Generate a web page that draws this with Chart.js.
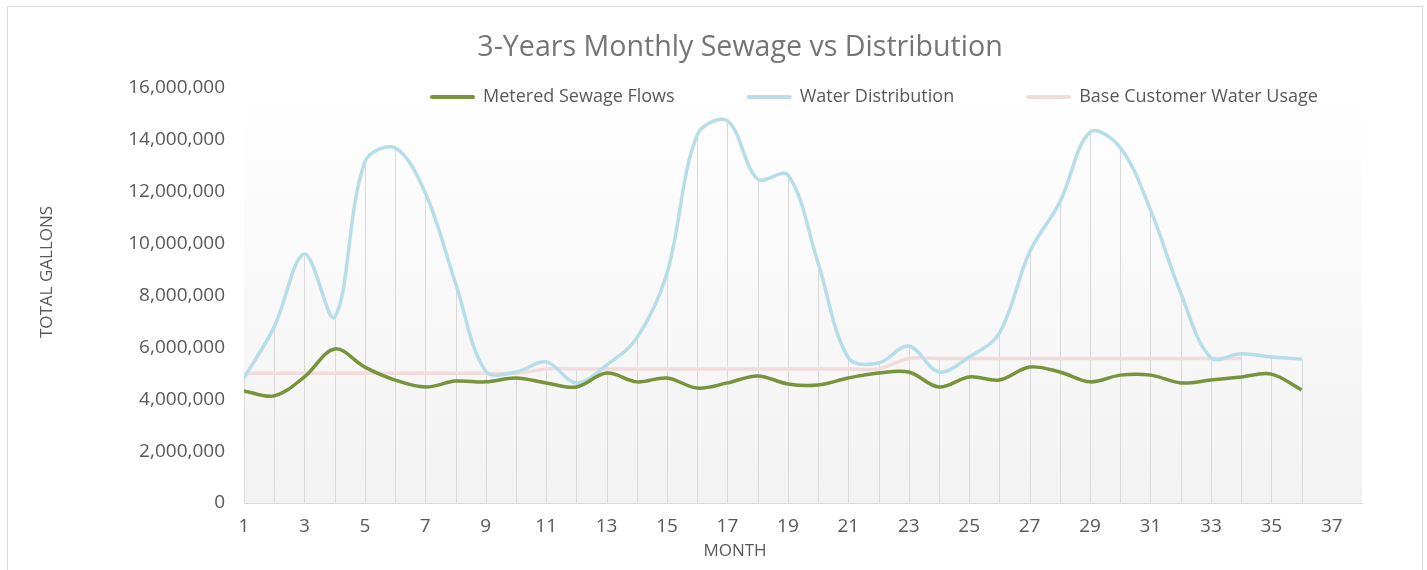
<!DOCTYPE html>
<html>
<head>
<meta charset="utf-8">
<title>3-Years Monthly Sewage vs Distribution</title>
<script src="https://cdn.jsdelivr.net/npm/chart.js@4.4.1/dist/chart.umd.min.js"></script>
<style>
    html, body { margin: 0; padding: 0; background: #ffffff; }
    #wrap { position: relative; width: 1427px; height: 570px; }
</style>
</head>
<body>
<div id="wrap"><canvas id="sewageChart"></canvas></div>
<script>
// Chart data (gallons per month)
const months = [1, 2, 3, 4, 5, 6, 7, 8, 9, 10, 11, 12, 13, 14, 15, 16, 17, 18,
    19, 20, 21, 22, 23, 24, 25, 26, 27, 28, 29, 30, 31, 32, 33, 34, 35, 36];

const meteredSewage = [4320000, 4130000, 4860000, 5940000, 5240000, 4740000, 4470000, 4700000, 4670000,
    4820000, 4630000, 4470000, 5010000, 4670000, 4820000, 4430000, 4630000, 4900000,
    4590000, 4550000, 4820000, 5010000, 5050000, 4470000, 4860000, 4740000, 5240000,
    5050000, 4670000, 4930000, 4930000, 4630000, 4740000, 4860000, 4970000, 4360000];

const waterDistribution = [4820000, 6790000, 9600000, 7170000, 13150000, 13690000, 11950000, 8480000, 5080000,
    5050000, 5440000, 4630000, 5320000, 6360000, 8870000, 14190000, 14730000, 12490000,
    12650000, 9250000, 5600000, 5400000, 6050000, 5050000, 5630000, 6550000, 9680000,
    11600000, 14300000, 13700000, 11300000, 8100000, 5600000, 5750000, 5630000, 5550000];

const baseCustomerUsage = [5000000, 5000000, 5000000, 5000000, 5000000, 5000000, 5000000, 5000000, 5000000,
    5000000, 5170000, 5170000, 5170000, 5170000, 5170000, 5170000, 5170000, 5170000,
    5170000, 5170000, 5170000, 5170000, 5570000, 5570000, 5570000, 5570000, 5570000,
    5570000, 5570000, 5570000, 5570000, 5570000, 5570000, 5570000];

const xTickLabels = [1, 3, 5, 7, 9, 11, 13, 15, 17, 19, 21, 23, 25, 27, 29, 31, 33, 35, 37];
const yTickLabels = [0, 2000000, 4000000, 6000000, 8000000, 10000000, 12000000, 14000000, 16000000];

const TEXT_GREY = '#595959';
const FONT = "'Open Sans', sans-serif";

function toPoints(values) {
    return values.map((v, i) => ({ x: months[i], y: v }));
}

// Plot area background, outer frame
const backgroundPlugin = {
    id: 'background',
    beforeDraw(chart) {
        const { ctx, chartArea: a } = chart;
        ctx.save();
        ctx.fillStyle = '#ffffff';
        ctx.fillRect(0, 0, chart.width, chart.height);
        const grad = ctx.createLinearGradient(0, a.top, 0, a.bottom);
        grad.addColorStop(0, '#ffffff');
        grad.addColorStop(1, '#f2f2f2');
        ctx.fillStyle = grad;
        ctx.fillRect(a.left, a.top, a.right - a.left, a.bottom - a.top);
        ctx.strokeStyle = '#d9d9d9';
        ctx.lineWidth = 1;
        ctx.strokeRect(7.5, 6.5, chart.width - 12, chart.height + 20);
        ctx.restore();
    }
};

// Drop lines from the axis up to the highest series at each month
const dropLinesPlugin = {
    id: 'dropLines',
    beforeDatasetsDraw(chart) {
        const { ctx, scales } = chart;
        ctx.save();
        ctx.strokeStyle = '#d9d9d9';
        ctx.lineWidth = 1;
        months.forEach((m, i) => {
            let top = -Infinity;
            chart.data.datasets.forEach(ds => {
                if (ds.data[i]) top = Math.max(top, ds.data[i].y);
            });
            const x = Math.round(scales.x.getPixelForValue(m)) + 0.5;
            ctx.beginPath();
            ctx.moveTo(x, scales.y.getPixelForValue(0));
            ctx.lineTo(x, scales.y.getPixelForValue(top));
            ctx.stroke();
        });
        ctx.restore();
    }
};

// Title, legend and axis titles placed like the original sheet
const labelsPlugin = {
    id: 'labels',
    afterDraw(chart) {
        const { ctx, chartArea: a } = chart;
        ctx.save();
        ctx.textBaseline = 'middle';

        ctx.fillStyle = '#757575';
        ctx.font = '28.6px ' + FONT;
        ctx.textAlign = 'center';
        ctx.fillText('3-Years Monthly Sewage vs Distribution', 740, 48);

        // legend
        ctx.font = '18px ' + FONT;
        ctx.textAlign = 'left';
        let x = a.left + 186;
        const y = 97;
        chart.data.datasets.forEach(ds => {
            ctx.strokeStyle = ds.borderColor;
            ctx.lineWidth = 4;
            ctx.lineCap = 'round';
            ctx.beginPath();
            ctx.moveTo(x + 2, y);
            ctx.lineTo(x + 43, y);
            ctx.stroke();
            ctx.fillStyle = TEXT_GREY;
            ctx.fillText(ds.label, x + 53, y);
            x += 53 + ctx.measureText(ds.label).width + 72;
        });

        // axis titles
        ctx.font = '17px ' + FONT;
        ctx.textAlign = 'center';
        ctx.fillText('MONTH', 735, 551);
        ctx.translate(47, 272);
        ctx.rotate(-Math.PI / 2);
        ctx.fillText('TOTAL GALLONS', 0, 0);
        ctx.restore();
    }
};

Chart.defaults.font.family = FONT;
Chart.defaults.color = TEXT_GREY;

const ctx = document.getElementById('sewageChart').getContext('2d');
const sewageChart = new Chart(ctx, {
    type: 'line',
    data: {
        datasets: [
            {
                label: 'Metered Sewage Flows',
                data: toPoints(meteredSewage),
                borderColor: '#77933c',
                borderWidth: 3.5,
                pointRadius: 0,
                tension: 0.35,
                fill: false
            },
            {
                label: 'Water Distribution',
                data: toPoints(waterDistribution),
                borderColor: '#b7dee8',
                borderWidth: 3.5,
                pointRadius: 0,
                tension: 0.35,
                fill: false
            },
            {
                label: 'Base Customer Water Usage',
                data: toPoints(baseCustomerUsage),
                borderColor: '#f2dcdb',
                borderWidth: 3.5,
                pointRadius: 0,
                tension: 0.35,
                fill: false
            }
        ]
    },
    options: {
        responsive: true,
        maintainAspectRatio: false,
        devicePixelRatio: 1,
        animation: false,
        layout: {
            padding: { left: 8, right: 65, top: 88, bottom: 0 }
        },
        plugins: {
            legend: { display: false },
            title: { display: false },
            tooltip: { enabled: false }
        },
        scales: {
            x: {
                type: 'linear',
                min: 1,
                max: 38,
                afterBuildTicks: (scale) => {
                    scale.ticks = xTickLabels.map(v => ({ value: v }));
                },
                afterFit: (scale) => { scale.height = 67; },
                grid: { display: false },
                border: { display: true, color: '#d9d9d9', width: 1 },
                ticks: {
                    font: { size: 19 },
                    padding: 4,
                    maxRotation: 0,
                    autoSkip: false
                }
            },
            y: {
                min: 0,
                max: 16000000,
                afterBuildTicks: (scale) => {
                    scale.ticks = yTickLabels.map(v => ({ value: v }));
                },
                afterFit: (scale) => { scale.width = 236; },
                grid: { display: false },
                border: { display: false },
                ticks: {
                    font: { size: 19 },
                    padding: 11,
                    callback: (v) => v.toLocaleString('en-US')
                }
            }
        }
    },
    plugins: [backgroundPlugin, dropLinesPlugin, labelsPlugin]
});
</script>
</body>
</html>
